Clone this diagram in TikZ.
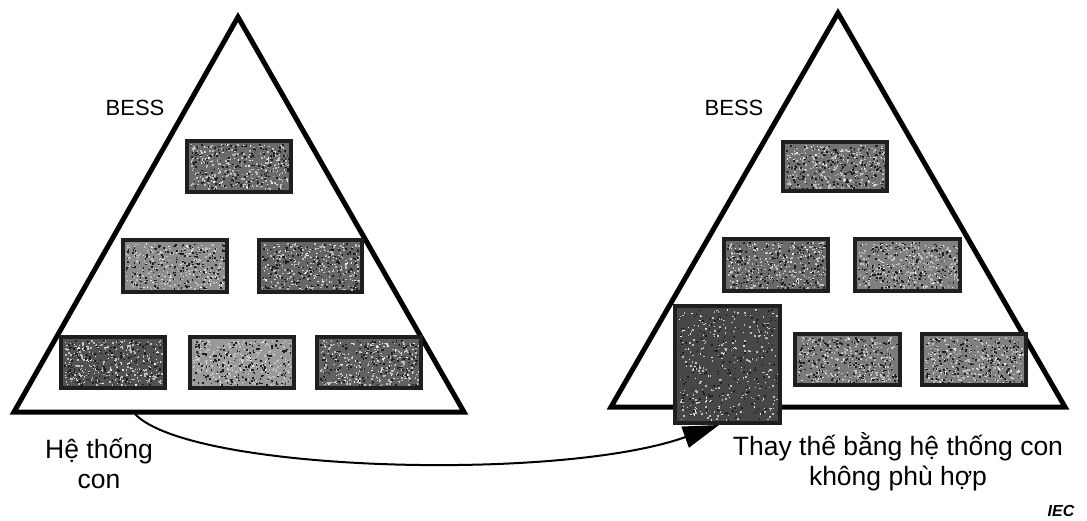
\documentclass[tikz,border=0pt]{standalone}
\usepackage{fontspec}
\setmainfont{Liberation Sans}
\usetikzlibrary{arrows.meta}

\tikzset{
  pyramid/.style={draw=black, line width=5pt, line join=miter},
  subsys/.style={draw=black!88, line width=4pt, inner sep=0pt,
                 minimum width=104pt, minimum height=51pt},
  conn/.style={draw=black, line width=2pt,
               -{Triangle[length=36pt,width=22pt]}},
  lbl/.style={font=\fontsize{26.5}{30}\selectfont, align=center, inner sep=0pt},
  title/.style={font=\fontsize{22}{26}\selectfont, inner sep=0pt}
}

% grainy sub-system block: name, centre x, centre y, width, height, base grey
\newcommand\grainbox[6]{%
  \node[subsys, fill=#6, minimum width=#4pt, minimum height=#5pt] (#1) at (#2,#3) {};
  \foreach \k in {1,...,220}{%
    \fill[black!25] ({#2+(rnd-0.5)*(#4-6)},{#3+(rnd-0.5)*(#5-6)}) rectangle ++(1.6,1.6);
  }%
  \foreach \k in {1,...,90}{%
    \fill[black!8] ({#2+(rnd-0.5)*(#4-6)},{#3+(rnd-0.5)*(#5-6)}) rectangle ++(1.2,1.2);
  }%
  \foreach \k in {1,...,200}{%
    \fill[black!88] ({#2+(rnd-0.5)*(#4-6)},{#3+(rnd-0.5)*(#5-6)}) rectangle ++(1.6,1.6);
  }%
}

\begin{document}
\begin{tikzpicture}[x=1pt, y=-1pt]
\pgfmathsetseed{4711}
\useasboundingbox (0,0) rectangle (1087,520);

% ---- left pyramid: original system ----
\draw[pyramid] (238,17) -- (14,412) -- (464,412) -- cycle;
\node[title] (bessL) at (135,108) {BESS};
\grainbox{lt}{239}{166}{104}{51}{black!58}
\grainbox{lma}{174.5}{266}{104}{52}{black!45}
\grainbox{lmb}{310}{266}{103}{52}{black!60}
\grainbox{lba}{113}{362.5}{104}{51}{black!68}
\grainbox{lbb}{241.5}{362.5}{104}{51}{black!40}
\grainbox{lbc}{369}{362.5}{104}{51}{black!62}
\coordinate (tail) at (135,414);
\node[lbl] (sub) at (99,463) {Hệ thống\\con};

% ---- right pyramid: one sub-system replaced ----
\draw[pyramid] (838,13) -- (611,407) -- (1065,407) -- cycle;
\node[title] (bessR) at (734,108) {BESS};
\grainbox{rt}{835}{166.5}{104}{49}{black!55}
\grainbox{rma}{776}{265}{104}{52}{black!58}
\grainbox{rmb}{907.5}{265}{105}{52}{black!50}
\grainbox{big}{727.5}{364.5}{105}{117}{black!72}
\grainbox{rbb}{847.5}{359.5}{105}{51}{black!52}
\grainbox{rbc}{974}{359.5}{104}{51}{black!50}
\node[lbl] (repl) at (898,462) {Thay thế bằng hệ thống con\\không phù hợp};

% ---- replacement arrow ----
\draw[conn] (tail) .. controls (190,472) and (560,482) .. (big.262);

% ---- source mark ----
\node[font=\fontsize{16}{18}\selectfont\bfseries\itshape, inner sep=0pt] (iec) at (1061,511) {IEC};
\end{tikzpicture}
\end{document}
